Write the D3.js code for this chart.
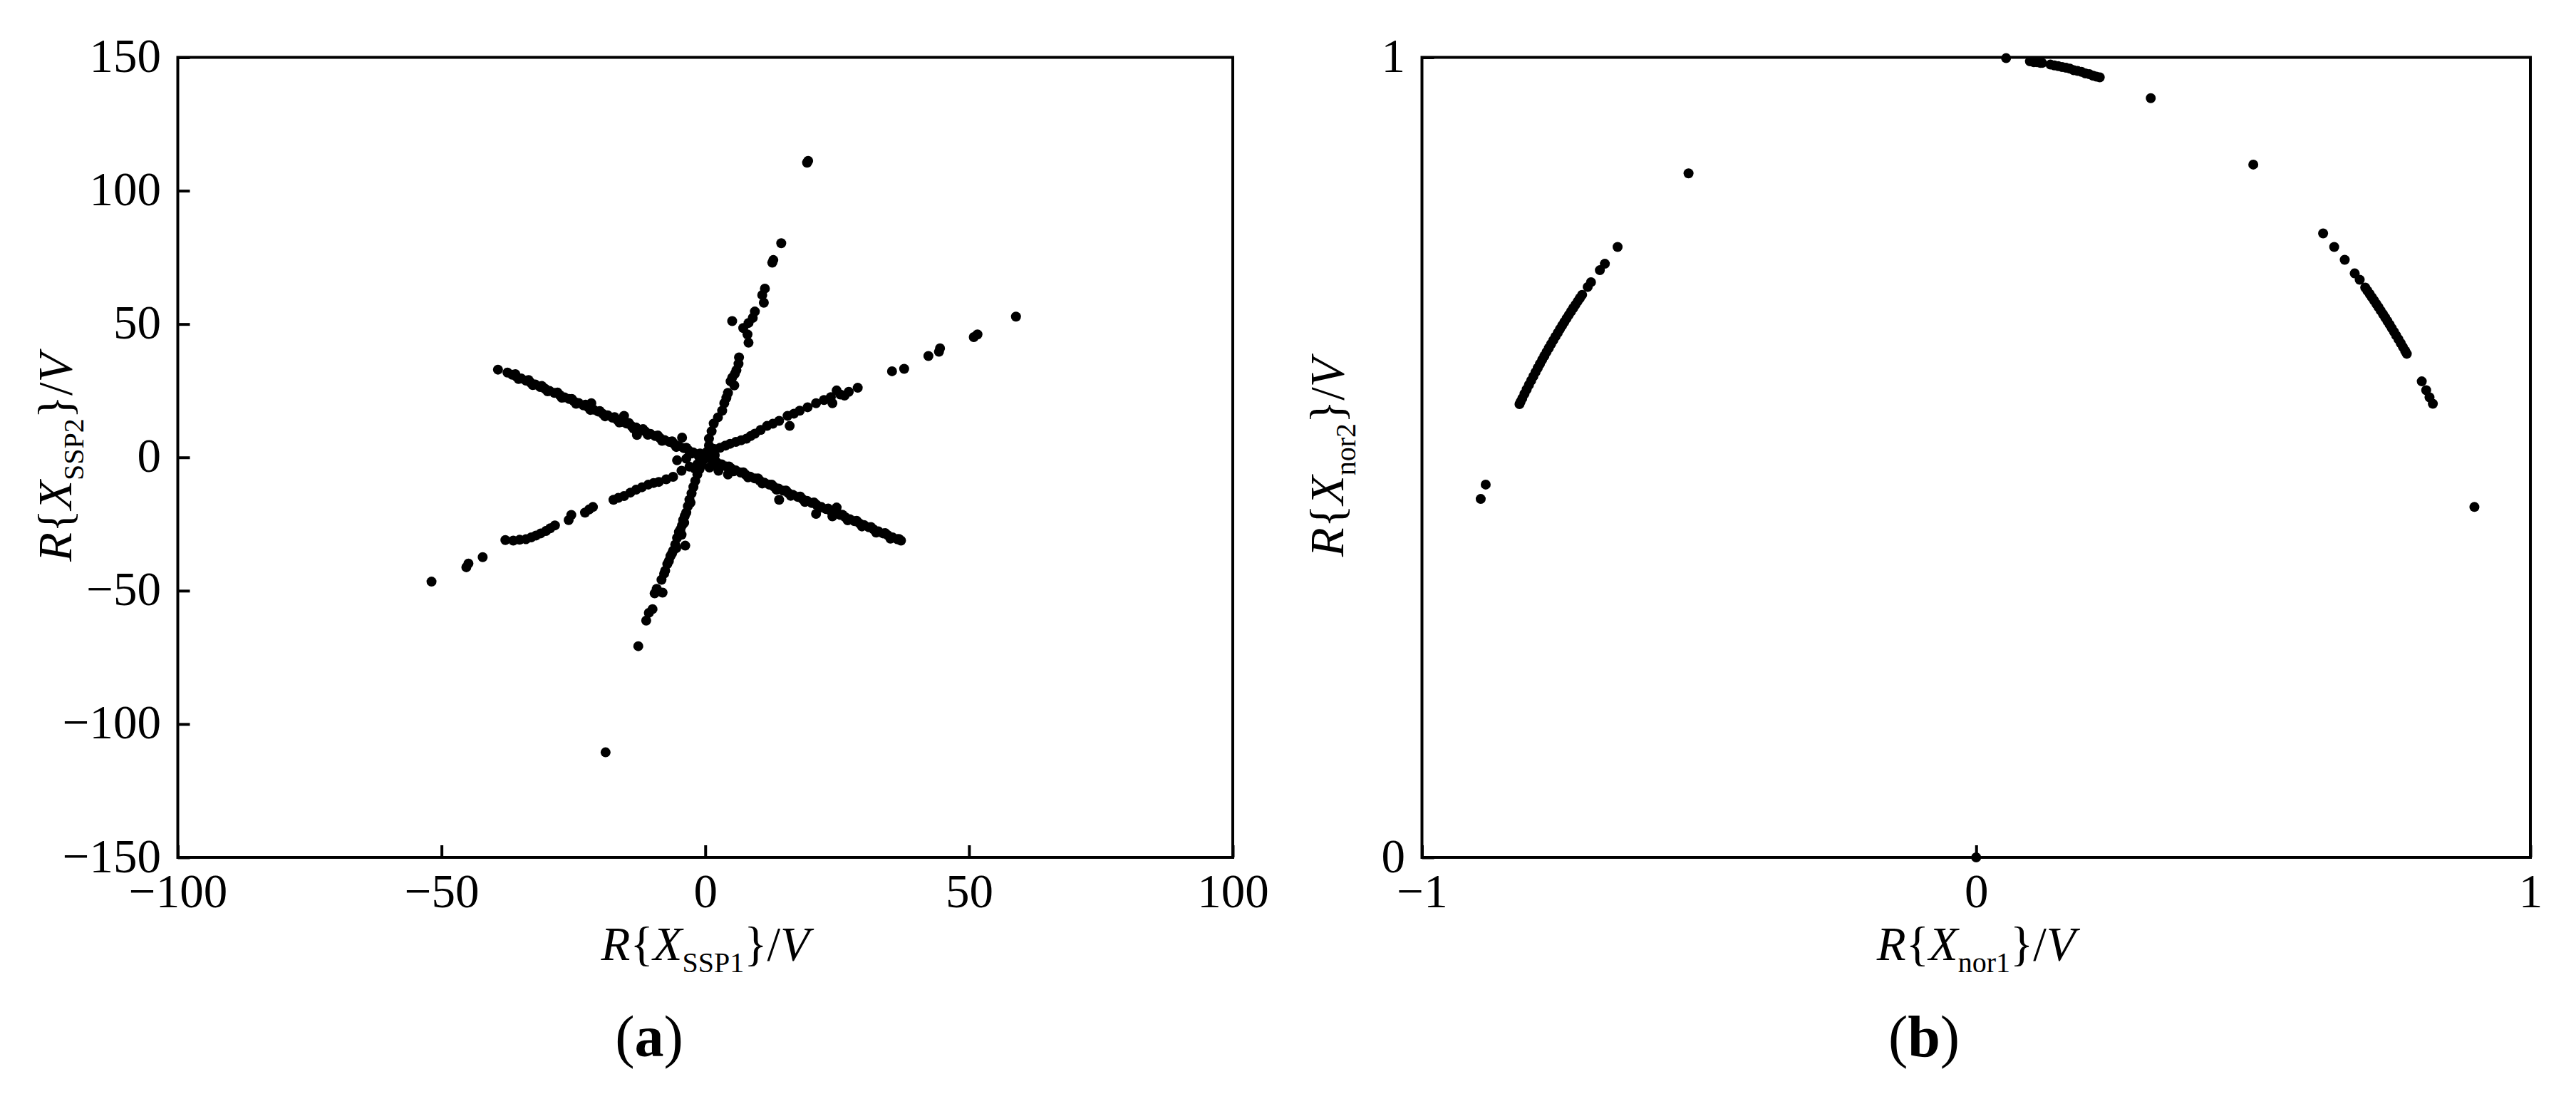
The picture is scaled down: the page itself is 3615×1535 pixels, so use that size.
<!DOCTYPE html>
<html>
<head>
<meta charset="utf-8">
<script src="https://cdn.jsdelivr.net/npm/d3@7/dist/d3.min.js"></script>
<style>
  html, body { margin: 0; padding: 0; background: #fff; }
  svg { display: block; }
  text { font-family: "Liberation Serif", "Times New Roman", serif; fill: #000; }
</style>
</head>
<body>
<svg id="chart" width="3615" height="1535"></svg>
<script>
// ---------------- DATA ----------------
// Panel (a): three scatter branches, [Re{X_SSP1}, Re{X_SSP2}] in V
const branchA1 = [
  [-39.3,32.9],[-37.5,31.8],[-36.6,31.0],[-35.8,30.3],[-34.9,29.6],[-34.0,28.8],[-33.1,28.0],[-32.2,27.3],
  [-31.3,26.4],[-30.4,25.8],[-29.5,24.9],[-28.6,24.2],[-27.6,23.4],[-26.7,22.5],[-25.8,21.9],[-24.9,21.0],
  [-24.0,20.4],[-23.1,19.5],[-22.2,18.8],[-21.6,20.3],[-21.2,17.9],[-20.3,17.2],[-19.4,16.3],[-18.5,15.8],
  [-17.6,14.9],[-16.7,14.1],[-15.4,15.6],[-15.8,13.3],[-14.9,12.7],[-14.0,11.8],[-13.1,11.2],[-12.95,8.4],
  [-12.2,10.3],[-11.3,9.6],[-10.4,8.8],[-9.5,8.0],[-8.6,7.3],[-7.7,6.5],[-6.8,5.8],[-5.9,5.0],[-5.0,4.2],
  [-4.4,7.4],[-4.1,3.5],[-3.2,2.7],[-2.3,1.9],[-1.4,1.2],[-0.5,0.4],[0.4,-0.3],[1.3,-1.1],[2.2,-1.9],
  [3.1,-2.6],[4.0,-3.4],[4.3,-6.4],[4.9,-4.1],[5.8,-4.9],[6.7,-5.7],[7.6,-6.4],[8.5,-7.2],[9.4,-7.9],
  [10.3,-8.7],[11.2,-9.5],[12.1,-10.2],[13.0,-11.0],[13.9,-11.7],[14.0,-15.9],[14.8,-12.5],[15.7,-13.3],
  [16.6,-14.0],[17.5,-14.8],[18.4,-15.6],[19.3,-16.3],[20.2,-17.1],[21.0,-21.2],[21.1,-17.8],[22.0,-18.6],
  [22.9,-19.4],[23.8,-20.1],[24.1,-22.1],[24.9,-18.8],[24.7,-20.9],[25.6,-21.6],[26.5,-22.4],[27.4,-23.2],
  [28.3,-23.9],[29.2,-24.7],[30.1,-25.4],[31.0,-26.2],[31.9,-27.0],[32.8,-27.7],[33.7,-28.5],[34.6,-29.2],
  [35.5,-30.0],[36.4,-30.7],[37.1,-31.2],
  [-36.0,31.2],[-33.5,29.0],[-31.0,26.8],[-28.0,24.3],[-25.3,21.9],[-22.7,19.8],[-20.0,17.4],[-17.2,15.1],
  [-14.5,12.9],[-11.8,10.6],[-9.0,8.2],[-6.3,6.0],[-3.6,3.6],[-1.0,1.5],[1.8,-1.1],[4.5,-3.4],[7.2,-5.6],
  [10.0,-7.9],[12.6,-10.2],[15.3,-12.4],[18.0,-14.7],[20.6,-16.9],[23.3,-19.2],[26.0,-21.5],[28.7,-23.8],
  [31.4,-26.1],[34.1,-28.4],[36.7,-30.6],
  [-35.4,29.4],[-32.7,27.1],[-29.9,24.8],[-27.2,22.4],[-24.5,20.1],[-21.8,17.8],[-19.0,15.4],[-16.3,13.1],
  [-13.6,10.8],[-10.9,8.5],[-8.2,6.2],[-5.5,3.9],[-2.7,1.5],[2.7,-2.8],[5.4,-5.2],[8.1,-7.5],[10.8,-9.8],
  [13.5,-12.1],[16.2,-14.4],[18.9,-16.7],[21.6,-19.0],[24.3,-21.3],[27.0,-23.6],[29.7,-25.9],[32.4,-28.2],
  [35.1,-30.5]
];
const branchA2 = [
  [-51.9,-46.6],[-45.3,-41.2],[-44.9,-39.8],[-42.2,-37.4],[-37.9,-31.0],[-36.4,-31.2],[-35.2,-30.9],[-34.0,-30.7],
  [-33.0,-30.0],[-32.1,-29.3],[-31.2,-28.5],[-30.2,-27.6],[-29.4,-26.6],[-28.5,-25.5],[-25.9,-23.5],[-25.4,-21.6],
  [-22.8,-20.7],[-22.0,-19.5],[-21.3,-18.6],[-17.4,-15.9],[-16.5,-15.2],[-15.4,-14.5],[-14.2,-13.2],[-13.1,-12.1],
  [-12.0,-11.2],[-10.8,-10.2],[-9.8,-9.6],[-8.8,-9.2],[-7.4,-8.2],[-6.1,-7.3],[-5.35,-1.1],[-4.5,-5.0],
  [-3.0,-3.5],[-1.5,-2.6],[-0.5,-1.2],[0.6,1.0],[1.6,3.2],[2.8,3.6],[3.8,4.4],[4.7,5.1],[5.8,5.8],[6.8,6.4],
  [7.8,7.0],[8.6,8.0],[9.4,8.9],[10.5,10.3],[11.7,11.8],[12.8,12.6],[14.0,13.7],[15.6,15.6],[16.0,11.8],
  [16.8,16.4],[17.9,17.5],[19.4,18.8],[21.0,20.3],[22.5,21.5],[24.1,20.3],[23.8,22.6],[24.9,25.1],[25.6,23.6],
  [26.4,23.2],[27.2,24.6],[28.9,26.1],[35.4,32.3],[37.7,33.2],[42.3,38.0],[44.5,40.9],[44.3,39.6],[50.9,45.1],
  [51.6,46.1],[58.9,52.8]
];
const branchA3 = [
  [-18.9,-110.6],[-12.7,-70.8],[-11.2,-61.2],[-10.7,-58.3],[-10.0,-56.9],[-9.6,-51.0],[-9.2,-49.3],[-8.1,-50.7],
  [-8.3,-45.9],[-7.8,-43.6],[-7.6,-42.5],[-7.2,-40.0],[-6.9,-38.8],[-6.6,-37.0],[-6.3,-36.0],[-6.1,-35.0],
  [-5.5,-34.0],[-5.7,-32.7],[-3.8,-33.1],[-5.35,-30.2],[-4.5,-29.0],[-5.0,-28.0],[-4.7,-27.0],[-4.4,-25.5],
  [-4.0,-24.5],[-4.2,-23.5],[-3.9,-22.0],[-3.6,-20.7],[-3.3,-18.3],[-2.8,-17.0],[-3.0,-15.9],[-2.6,-13.5],
  [-2.25,-11.1],[-1.9,-8.8],[-1.5,-6.4],[-1.1,-4.5],[-0.7,-2.5],[-0.3,-0.5],[0.3,2.0],[0.7,4.5],[0.7,7.0],
  [1.2,9.8],[1.6,12.7],[2.4,15.0],[3.2,17.5],[3.6,20.3],[4.0,22.3],[4.3,24.2],[5.5,27.0],[4.8,28.5],[5.1,29.9],
  [5.6,31.3],[5.9,32.7],[6.3,35.1],[6.4,37.5],[8.2,43.0],[8.0,46.1],[7.2,48.5],[8.2,50.4],[5.1,51.1],[9.0,52.3],
  [9.4,54.7],[11.1,58.0],[10.8,60.9],[11.3,63.3],[12.7,73.0],[12.9,74.0],[14.4,80.3],[19.3,110.5],[19.5,111.2]
];
const centreA = [
  [-2.0,-4.2],[-1.0,-3.6],[0.8,-3.8],[1.5,-2.8],[2.5,-5.0],[-3.6,-0.5],[-2.5,1.5],[1.8,0.8],[0,0],[-1.2,0.3]
];

// Panel (b): normalised points on the unit circle, [Re{X_nor1}, Re{X_nor2}] in V
const pointsB = [
  [0.054,0.999],[0.097,0.995],[0.104,0.994],[0.110,0.994],[0.116,0.993],[0.119,0.993],[0.134,0.991],[0.141,0.990],
  [0.148,0.989],[0.155,0.988],[0.162,0.987],[0.169,0.986],[0.176,0.984],[0.183,0.983],[0.190,0.982],[0.197,0.980],
  [0.204,0.979],[0.211,0.977],[0.217,0.976],[0.223,0.975],[0.315,0.949],[0.500,0.866],
  [-0.519,0.855],[-0.647,0.763],[-0.670,0.742],[-0.679,0.734],[-0.695,0.719],[-0.701,0.713],
  [-0.711,0.7032],[-0.715,0.6991],[-0.719,0.6950],[-0.723,0.6908],[-0.727,0.6866],[-0.731,0.6824],[-0.735,0.6781],
  [-0.739,0.6737],[-0.743,0.6693],[-0.747,0.6648],[-0.751,0.6603],[-0.755,0.6557],[-0.759,0.6511],[-0.763,0.6464],
  [-0.767,0.6416],[-0.771,0.6368],[-0.775,0.6320],[-0.779,0.6270],[-0.783,0.6220],[-0.787,0.6169],[-0.791,0.6118],
  [-0.795,0.6066],[-0.799,0.6013],[-0.803,0.5960],[-0.807,0.5906],[-0.811,0.5851],[-0.815,0.5795],[-0.819,0.5738],
  [-0.822,0.5695],[-0.824,0.5666],[-0.885,0.466],[-0.894,0.448],
  [0.626,0.780],[0.646,0.763],[0.665,0.747],[0.683,0.730],[0.692,0.722],
  [0.702,0.7122],[0.706,0.7082],[0.710,0.7042],[0.714,0.7001],[0.718,0.6960],[0.722,0.6919],[0.726,0.6877],
  [0.730,0.6834],[0.734,0.6791],[0.738,0.6748],[0.742,0.6704],[0.746,0.6660],[0.750,0.6614],[0.754,0.6569],
  [0.758,0.6522],[0.762,0.6476],[0.766,0.6428],[0.770,0.6380],[0.774,0.6332],[0.777,0.6295],
  [0.804,0.595],[0.812,0.584],[0.818,0.575],[0.824,0.567],[0.899,0.438],
  [0.0,0.0]
];

const xTicksA = [-100, -50, 0, 50, 100];
const yTicksA = [-150, -100, -50, 0, 50, 100, 150];
const xTicksB = [-1, 0, 1];
const yTicksB = [0, 1];

// ---------------- DRAWING ----------------
const svg = d3.select("#chart");
svg.append("rect").attr("width", 3615).attr("height", 1535).attr("fill", "#fff");

const fmt = d => d < 0 ? "\u2212" + Math.abs(d) : String(d);
const TICK_FS = 67, TITLE_FS = 67, SUB_FS = 40;

function panel(opts) {
  const x = d3.scaleLinear().domain(opts.xDomain).range([opts.left, opts.right]);
  const y = d3.scaleLinear().domain(opts.yDomain).range([opts.bottom, opts.top]);
  const g = svg.append("g");

  // bottom axis (inward ticks)
  const gx = g.append("g").attr("transform", `translate(0,${opts.bottom})`)
    .call(d3.axisBottom(x).tickValues(opts.xTicks).tickSize(-17).tickSizeOuter(0).tickFormat(fmt));
  gx.select(".domain").remove();
  gx.selectAll(".tick line").attr("stroke", "#000").attr("stroke-width", 4);
  gx.selectAll(".tick text").attr("y", 70).attr("dy", null)
    .attr("font-size", TICK_FS).attr("fill", "#000")
    .style("font-family", '"Liberation Serif", serif');

  // left axis (inward ticks)
  const gy = g.append("g").attr("transform", `translate(${opts.left},0)`)
    .call(d3.axisLeft(y).tickValues(opts.yTicks).tickSize(-17).tickSizeOuter(0).tickFormat(fmt));
  gy.select(".domain").remove();
  gy.selectAll(".tick line").attr("stroke", "#000").attr("stroke-width", 4);
  gy.selectAll(".tick text").attr("x", -23.5).attr("dy", null).attr("y", 20)
    .attr("font-size", TICK_FS).attr("fill", "#000").attr("text-anchor", "end")
    .style("font-family", '"Liberation Serif", serif');

  // points
  g.append("g").selectAll("circle").data(opts.points).join("circle")
    .attr("cx", d => x(d[0])).attr("cy", d => y(d[1])).attr("r", 7).attr("fill", "#000");

  // frame
  g.append("rect").attr("x", opts.left).attr("y", opts.top)
    .attr("width", opts.right - opts.left).attr("height", opts.bottom - opts.top)
    .attr("fill", "none").attr("stroke", "#000").attr("stroke-width", 4);

  // axis titles
  function title(sel, sub) {
    sel.attr("font-size", TITLE_FS).attr("text-anchor", "middle");
    sel.append("tspan").attr("font-style", "italic").text("R");
    sel.append("tspan").text("{");
    sel.append("tspan").attr("font-style", "italic").text("X");
    sel.append("tspan").attr("font-size", SUB_FS).attr("dy", 17).text(sub);
    sel.append("tspan").attr("dy", -17).text("}");
    sel.append("tspan").text("/");
    sel.append("tspan").attr("font-style", "italic").text("V");
  }
  const cx = (opts.left + opts.right) / 2;
  const cy = (opts.top + opts.bottom) / 2;
  title(g.append("text").attr("x", cx).attr("y", 1347), opts.xSub);
  title(g.append("text").attr("transform", `translate(${opts.yTitleX},${cy}) rotate(-90)`), opts.ySub);

  // panel label
  const lab = g.append("text").attr("x", opts.labelX).attr("y", 1482)
    .attr("font-size", 82).attr("text-anchor", "middle");
  lab.append("tspan").text("(");
  lab.append("tspan").attr("font-weight", "bold").text(opts.label);
  lab.append("tspan").text(")");
}

panel({
  left: 249.5, right: 1730, top: 80.5, bottom: 1203,
  xDomain: [-100, 100], yDomain: [-150, 150],
  xTicks: xTicksA, yTicks: yTicksA,
  points: branchA1.concat(branchA2, branchA3, centreA),
  xSub: "SSP1", ySub: "SSP2", yTitleX: 100, labelX: 911, label: "a"
});

panel({
  left: 1995.5, right: 3551, top: 80.5, bottom: 1203,
  xDomain: [-1, 1], yDomain: [0, 1],
  xTicks: xTicksB, yTicks: yTicksB,
  points: pointsB,
  xSub: "nor1", ySub: "nor2", yTitleX: 1885, labelX: 2700, label: "b"
});
</script>
</body>
</html>
